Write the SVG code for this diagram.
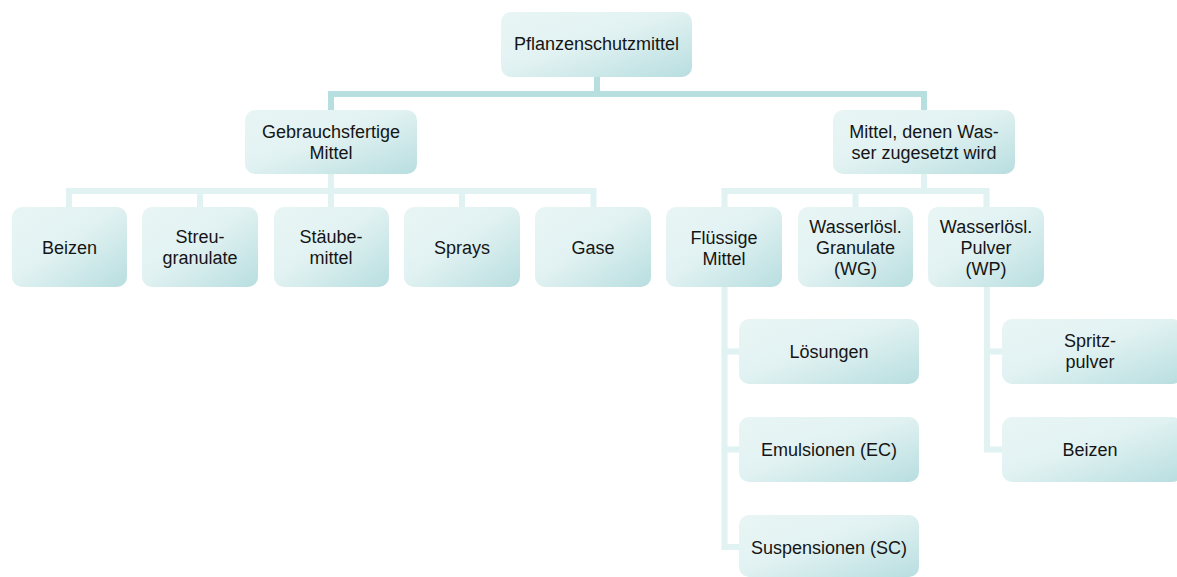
<svg xmlns="http://www.w3.org/2000/svg" width="1177" height="577" viewBox="0 0 1177 577">
<defs>
<linearGradient id="g" x1="0" y1="0" x2="1" y2="1">
<stop offset="0" stop-color="#e9f5f5"/>
<stop offset="0.45" stop-color="#e2f2f2"/>
<stop offset="1" stop-color="#b8dee0"/>
</linearGradient>
</defs>
<style>
.box{fill:url(#g);}
.t{font-family:"Liberation Sans",Arial,sans-serif;font-size:18px;fill:#151515;text-anchor:middle;}
.c1{stroke:#b8dfe0;stroke-width:6;fill:none;}
.c2{stroke:#e0f2f2;stroke-width:6;fill:none;}
</style>
<rect width="1177" height="577" fill="#ffffff"/>
<g id="connectors">
<path class="c1" d="M597 77V94M331 110V94H924V110"/>
<path class="c2" d="M331 174V191M69 207V191H593.5V207M200 191V207M331 191V207M462 191V207"/>
<path class="c2" d="M924 174V191M724.5 207V191H986.5V207M855.5 191V207"/>
<path class="c2" d="M724.5 287V547H739M724.5 351.5H739M724.5 449.5H739"/>
<path class="c2" d="M987 287V449.5H1002M987 351.5H1002"/>
</g>
<g id="n-root"><rect class="box" x="501" y="12" width="191" height="65" rx="10"/><text class="t" x="596.5" y="50">Pflanzenschutzmittel</text></g>
<g id="n-gebrauch"><rect class="box" x="245" y="110" width="172" height="64" rx="10"/><text class="t" x="331" y="138">Gebrauchsfertige</text><text class="t" x="331" y="159">Mittel</text></g>
<g id="n-wasser"><rect class="box" x="833" y="110" width="182" height="64" rx="10"/><text class="t" x="924" y="138">Mittel, denen Was-</text><text class="t" x="924" y="159">ser zugesetzt wird</text></g>
<g id="n-beizen1"><rect class="box" x="12" y="207" width="115" height="80" rx="10"/><text class="t" x="69.5" y="254">Beizen</text></g>
<g id="n-streu"><rect class="box" x="142" y="207" width="116" height="80" rx="10"/><text class="t" x="200" y="243">Streu-</text><text class="t" x="200" y="264">granulate</text></g>
<g id="n-staube"><rect class="box" x="274" y="207" width="115" height="80" rx="10"/><text class="t" x="331" y="243">Stäube-</text><text class="t" x="331" y="264">mittel</text></g>
<g id="n-sprays"><rect class="box" x="404" y="207" width="116" height="80" rx="10"/><text class="t" x="462" y="254">Sprays</text></g>
<g id="n-gase"><rect class="box" x="535" y="207" width="116" height="80" rx="10"/><text class="t" x="593" y="254">Gase</text></g>
<g id="n-fluessig"><rect class="box" x="666" y="207" width="116" height="80" rx="10"/><text class="t" x="724" y="244">Flüssige</text><text class="t" x="724" y="265">Mittel</text></g>
<g id="n-wg"><rect class="box" x="798" y="207" width="115" height="80" rx="10"/><text class="t" x="855.5" y="233">Wasserlösl.</text><text class="t" x="855.5" y="254">Granulate</text><text class="t" x="855.5" y="275">(WG)</text></g>
<g id="n-wp"><rect class="box" x="928" y="207" width="116" height="80" rx="10"/><text class="t" x="986" y="233">Wasserlösl.</text><text class="t" x="986" y="254">Pulver</text><text class="t" x="986" y="275">(WP)</text></g>
<g id="n-loesungen"><rect class="box" x="739" y="319" width="180" height="65" rx="10"/><text class="t" x="829" y="358">Lösungen</text></g>
<g id="n-emulsionen"><rect class="box" x="739" y="417" width="180" height="65" rx="10"/><text class="t" x="829" y="456">Emulsionen (EC)</text></g>
<g id="n-suspensionen"><rect class="box" x="739" y="515" width="180" height="62" rx="10"/><text class="t" x="829" y="554">Suspensionen (SC)</text></g>
<g id="n-spritz"><rect class="box" x="1002" y="319" width="180" height="65" rx="10"/><text class="t" x="1090" y="347">Spritz-</text><text class="t" x="1090" y="368">pulver</text></g>
<g id="n-beizen2"><rect class="box" x="1002" y="417" width="180" height="65" rx="10"/><text class="t" x="1090" y="456">Beizen</text></g>
</svg>
